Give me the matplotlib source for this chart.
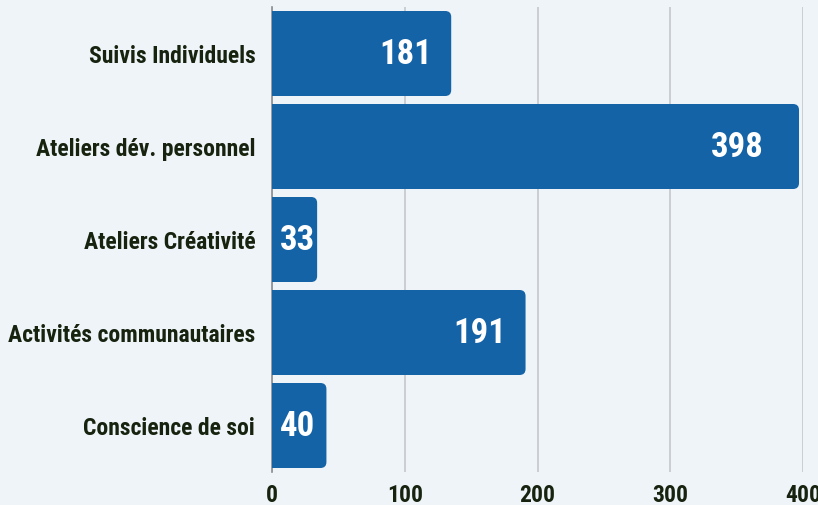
import matplotlib
matplotlib.use("Agg")
import matplotlib.pyplot as plt
from matplotlib.patches import FancyBboxPatch, Rectangle
from matplotlib import font_manager as fm

categories = ["Suivis Individuels", "Ateliers dév. personnel", "Ateliers Créativité",
              "Activités communautaires", "Conscience de soi"]
# bar lengths as drawn in the picture
bar_values = [135, 397, 34, 191, 41]
# value labels as printed on the bars
value_labels = ["181", "398", "33", "191", "40"]
xticks = [0, 100, 200, 300, 400]

names = {f.name for f in fm.fontManager.ttflist}
fam = None
for cand in ["Roboto Condensed", "Liberation Sans Narrow", "DejaVu Sans Condensed", "Roboto"]:
    if cand in names:
        fam = cand
        break
plt.rcParams['font.family'] = [fam, 'DejaVu Sans']

bg = "#eff4f9"
bar_color = "#1363a6"
text_color = "#17230f"

fig = plt.figure(figsize=(8.18, 5.06), dpi=100, facecolor=bg)
ax = fig.add_axes([272/818, 1-473/506, 531/818, 465/506], facecolor=bg)
ax.set_xlim(0, 400)
n = len(categories)
ax.set_ylim(n - 0.5, -0.5)

xpx = 531/400.0
ypx = 465/5.0
h = 85/93.0
r_px = 6
rx = r_px / xpx
ry = r_px / ypx

for i, (v, lab) in enumerate(zip(bar_values, value_labels)):
    p = FancyBboxPatch((0, i - h/2), v, h,
                       boxstyle=f"round,pad=0,rounding_size={rx}",
                       mutation_aspect=ry/rx, fc=bar_color, ec="none", zorder=3)
    ax.add_patch(p)
    ax.add_patch(Rectangle((0, i - h/2), min(v, 2*rx), h, fc=bar_color, ec="none", zorder=3))
    if v < 60:
        ax.text(8/xpx, i, lab, ha="left", va="center", color="white",
                fontsize=25, fontweight="bold", zorder=4)
    else:
        pad = 35 if v > 350 else 19
        ax.text(v - pad/xpx, i, lab, ha="right", va="center", color="white",
                fontsize=25, fontweight="bold", zorder=4)

ax.set_yticks(range(n))
ax.set_yticklabels(categories, fontsize=17, fontweight="bold", color=text_color)
ax.set_xticks(xticks)
ax.set_xticklabels([str(t) for t in xticks], fontsize=17, fontweight="bold", color=text_color)
ax.tick_params(axis="both", length=0)
ax.tick_params(axis="y", pad=12)
ax.tick_params(axis="x", pad=8)
ax.grid(axis="x", color="#c4c7cb", linewidth=1.2, zorder=0)
ax.set_axisbelow(True)
for s in ["top", "right", "bottom"]:
    ax.spines[s].set_visible(False)
ax.spines["left"].set_color("#8a8d90")
ax.spines["left"].set_linewidth(1.2)

fig.savefig("out.png", dpi=100, facecolor=bg)
